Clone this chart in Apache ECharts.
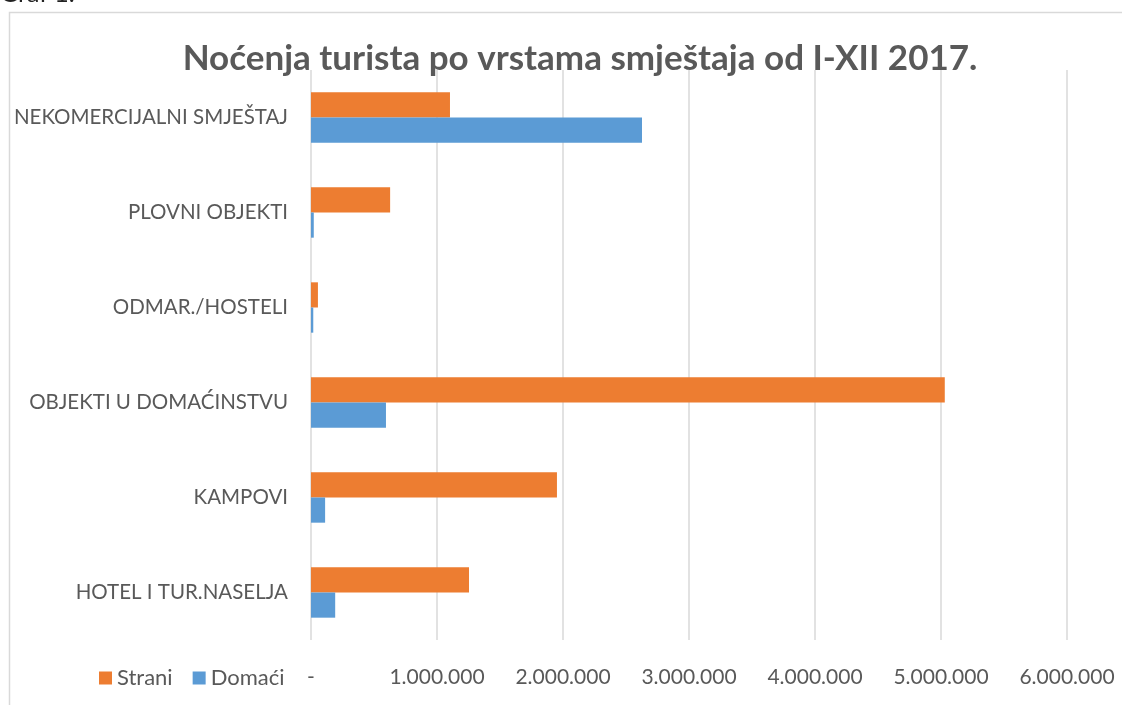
<!DOCTYPE html>
<html>
<head>
<meta charset="utf-8">
<script src="https://cdn.jsdelivr.net/npm/echarts@6/dist/echarts.min.js"></script>
<style>
	html, body { margin: 0; padding: 0; background: #fff; }
	#chart { width: 1122px; height: 705px; }
</style>
</head>
<body>
<div id="chart"></div>
<script>
	// kategorije odozdo prema gore (y os)
	var categories = ['HOTEL I TUR.NASELJA', 'KAMPOVI', 'OBJEKTI U DOMAĆINSTVU', 'ODMAR./HOSTELI', 'PLOVNI OBJEKTI', 'NEKOMERCIJALNI SMJEŠTAJ'];
	var strani = [1254000, 1952000, 5030000, 55000, 628000, 1103000];
	var domaci = [192000, 112000, 595000, 18000, 22000, 2627000];
	var xTicks = [0, 1000000, 2000000, 3000000, 4000000, 5000000, 6000000];

	var font = 'Lato';
	var myChart = echarts.init(document.getElementById('chart'));

	function fmt(v) {
		if (v === 0) return '-';
		return String(v).replace(/\B(?=(\d{3})+(?!\d))/g, '.');
	}

	var option = {
		animation: false,
		textStyle: { fontFamily: font },
		title: {
			text: 'Noćenja turista po vrstama smještaja od I-XII 2017.',
			left: 575,
			textAlign: 'center',
			top: 36,
			textStyle: { fontSize: 35, fontWeight: 'bold', color: '#595959', fontFamily: font }
		},
		legend: {
			data: ['Strani', 'Domaći'],
			left: 94,
			top: 662,
			itemWidth: 13,
			itemHeight: 13,
			itemGap: 20,
			icon: 'rect',
			textStyle: { fontSize: 22, color: '#595959', fontFamily: font }
		},
		grid: {
			left: 311,
			right: 1122 - 1067,
			top: 70,
			bottom: 705 - 640,
			containLabel: false
		},
		xAxis: {
			type: 'value',
			min: 0,
			max: 6000000,
			interval: 1000000,
			axisLine: { show: false },
			axisTick: { show: false },
			splitLine: { lineStyle: { color: '#d9d9d9', width: 1.5 } },
			axisLabel: {
				margin: 27,
				fontSize: 21,
				color: '#595959',
				fontFamily: font,
				formatter: function (v) { return xTicks.indexOf(v) >= 0 ? fmt(v) : ''; }
			}
		},
		yAxis: {
			type: 'category',
			data: categories,
			axisLine: { show: false },
			axisTick: { show: false },
			axisLabel: { margin: 23, fontSize: 20.5, color: '#595959', fontFamily: font }
		},
		series: [
			{
				name: 'Strani',
				type: 'bar',
				data: strani,
				barGap: '0%',
				barCategoryGap: '47%',
				itemStyle: { color: '#ed7d31' }
			},
			{
				name: 'Domaći',
				type: 'bar',
				data: domaci,
				itemStyle: { color: '#5b9bd5' }
			}
		],
		graphic: [
			{
				type: 'rect',
				shape: { x: 9.5, y: 12.5, width: 1200, height: 800 },
				style: { fill: 'none', stroke: '#d9d9d9', lineWidth: 1.5 },
				silent: true
			},
			{
				type: 'text',
				left: 0,
				top: -19,
				style: { text: 'Graf 1.', fontSize: 25, fill: '#222', fontFamily: font }
			}
		]
	};
	myChart.setOption(option);
</script>
</body>
</html>
